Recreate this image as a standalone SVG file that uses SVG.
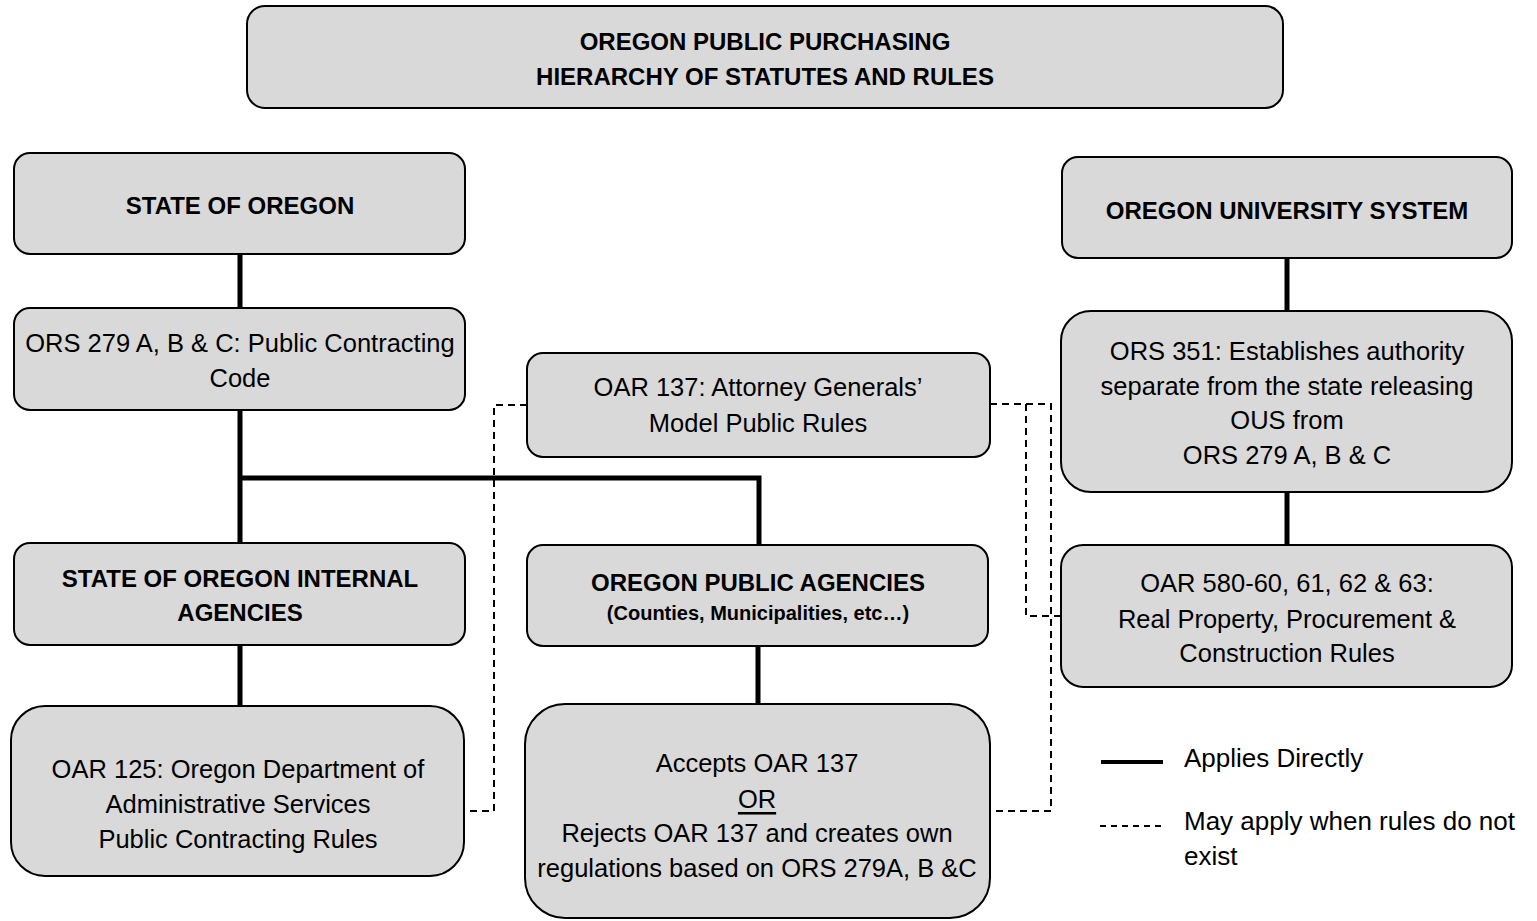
<svg xmlns="http://www.w3.org/2000/svg" width="1537" height="921" viewBox="0 0 1537 921">
<style>
.box{fill:#d9d9d9;stroke:#000;stroke-width:2}
.t{font-family:"Liberation Sans",Arial,sans-serif;font-size:25.5px;fill:#000;text-anchor:middle;dominant-baseline:central}
.b{font-weight:bold;font-size:24px}
.s{font-weight:bold;font-size:20px}
.solid{stroke:#000;stroke-width:5;fill:none}
.dash{stroke:#000;stroke-width:2;fill:none;stroke-dasharray:7,5}
.lg{font-family:"Liberation Sans",Arial,sans-serif;font-size:26px;fill:#000;dominant-baseline:central}
</style>
<rect width="1537" height="921" fill="#fff"/>
<g id="connectors">
<path class="solid" d="M240 254V308M240 410V543M240 478H759V545M240 645V706M758 646V704M1287 258V311M1287 492V545"/>
<path class="dash" d="M527 405H494V811H464"/>
<path class="dash" d="M990 404H1051V811H990"/>
<path class="dash" d="M1026 404V616H1061"/>
</g>
<g id="title">
<rect class="box" x="247" y="6" width="1036" height="102" rx="18"/>
<text class="t b" x="765" y="41">OREGON PUBLIC PURCHASING</text>
<text class="t b" x="765" y="76">HIERARCHY OF STATUTES AND RULES</text>
</g>
<g id="state">
<rect class="box" x="14" y="153" width="451" height="101" rx="16"/>
<text class="t b" x="240" y="205">STATE OF OREGON</text>
</g>
<g id="ous">
<rect class="box" x="1062" y="157" width="450" height="101" rx="16"/>
<text class="t b" x="1287" y="210">OREGON UNIVERSITY SYSTEM</text>
</g>
<g id="ors279">
<rect class="box" x="14" y="308" width="451" height="102" rx="16"/>
<text class="t" x="240" y="343">ORS 279 A, B &amp; C: Public Contracting</text>
<text class="t" x="240" y="378">Code</text>
</g>
<g id="oar137">
<rect class="box" x="527" y="353" width="463" height="104" rx="16"/>
<text class="t" x="758" y="387">OAR 137: Attorney Generals’</text>
<text class="t" x="758" y="423">Model Public Rules</text>
</g>
<g id="ors351">
<rect class="box" x="1061" y="311" width="451" height="181" rx="30"/>
<text class="t" x="1287" y="351">ORS 351: Establishes authority</text>
<text class="t" x="1287" y="386">separate from the state releasing</text>
<text class="t" x="1287" y="420">OUS from</text>
<text class="t" x="1287" y="455">ORS 279 A, B &amp; C</text>
</g>
<g id="internal">
<rect class="box" x="14" y="543" width="451" height="102" rx="16"/>
<text class="t b" x="240" y="578">STATE OF OREGON INTERNAL</text>
<text class="t b" x="240" y="612">AGENCIES</text>
</g>
<g id="public">
<rect class="box" x="527" y="545" width="461" height="101" rx="16"/>
<text class="t b" x="758" y="582">OREGON PUBLIC AGENCIES</text>
<text class="t s" x="758" y="613">(Counties, Municipalities, etc…)</text>
</g>
<g id="oar580">
<rect class="box" x="1061" y="545" width="451" height="142" rx="22"/>
<text class="t" x="1287" y="583">OAR 580-60, 61, 62 &amp; 63:</text>
<text class="t" x="1287" y="619">Real Property, Procurement &amp;</text>
<text class="t" x="1287" y="653">Construction Rules</text>
</g>
<g id="oar125">
<rect class="box" x="11" y="706" width="453" height="170" rx="34"/>
<text class="t" x="238" y="769">OAR 125: Oregon Department of</text>
<text class="t" x="238" y="804">Administrative Services</text>
<text class="t" x="238" y="839">Public Contracting Rules</text>
</g>
<g id="accepts">
<rect class="box" x="525" y="704" width="465" height="214" rx="40"/>
<text class="t" x="757" y="763">Accepts OAR 137</text>
<text class="t" x="757" y="799" text-decoration="underline">OR</text>
<text class="t" x="757" y="833">Rejects OAR 137 and creates own</text>
<text class="t" x="757" y="868">regulations based on ORS 279A, B &amp;C</text>
</g>
<g id="legend">
<line class="solid" x1="1101" y1="762" x2="1163" y2="762" style="stroke-width:4"/>
<text class="lg" x="1184" y="758">Applies Directly</text>
<line class="dash" x1="1100" y1="826" x2="1162" y2="826" style="stroke-dasharray:6,5"/>
<text class="lg" x="1184" y="821">May apply when rules do not</text>
<text class="lg" x="1184" y="856">exist</text>
</g>
</svg>
